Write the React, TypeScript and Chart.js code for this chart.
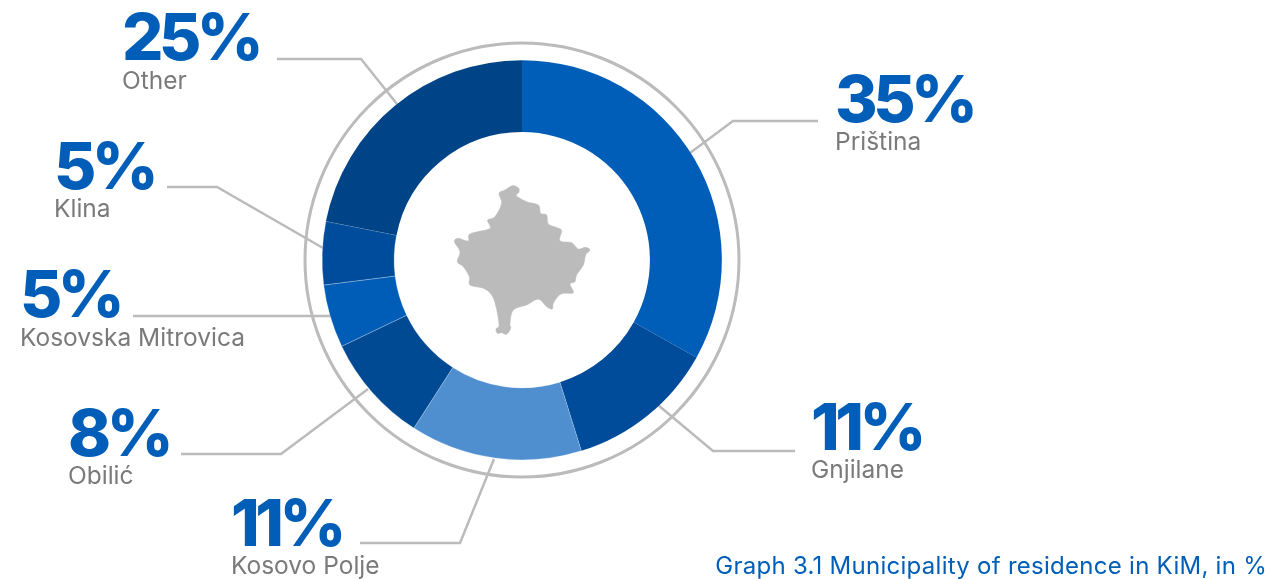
import React, { useEffect, useRef } from "react";
import { Chart, registerables } from "chart.js";

Chart.register(...registerables);

const categories = ["Priština", "Gnjilane", "Kosovo Polje", "Obilić", "Kosovska Mitrovica", "Klina", "Other"];
const percentLabels = ["35%", "11%", "11%", "8%", "5%", "5%", "25%"];
const sliceShares = [33.1, 12.1, 13.9, 8.8, 5.1, 5.1, 21.9];
const sliceColors = ["#005EB8", "#004C9B", "#4F8ECF", "#004A93", "#005DB7", "#004C9C", "#004488"];
const sliceBorders = [0, 0, 0.25, 0.25, 0.25, 0.25, 0];

const labelX = [835, 811, 231, 68, 20, 54, 122];
const percentBaseline = [122, 450, 546, 456, 317, 189, 60];
const nameBaseline = [150, 478, 574, 484, 346, 217, 89];
const leaders = [
  [[818, 121], [733, 121], [690, 153]],
  [[795, 451], [713, 451], [658, 405]],
  [[360, 543], [460, 543], [494, 459]],
  [[181, 454], [281, 454], [368, 389]],
  [[133, 316], [330, 316]],
  [[167, 187], [217, 187], [323, 248]],
  [[277, 59], [361, 59], [397, 104]],
];
const captionText = "Graph 3.1 Municipality of residence in KiM, in %";

const mapOutline = [
  [283, 77], [296, 85], [297, 96], [290, 108], [320, 125], [355, 135], [362, 160], [380, 165], [385, 192], [412, 203],
  [425, 212], [420, 242], [455, 248], [475, 267], [495, 262], [510, 270], [497, 285], [490, 315], [470, 345], [465, 365],
  [450, 372], [460, 398], [430, 400], [415, 408], [400, 430], [397, 447], [380, 440], [355, 418], [320, 435], [280, 450],
  [270, 490], [272, 505], [260, 523], [245, 518], [232, 520], [228, 507], [237, 495], [228, 440], [215, 405], [190, 385],
  [150, 375], [148, 350], [130, 320], [112, 305], [120, 275], [103, 245], [115, 235], [145, 243], [150, 222], [205, 208],
  [210, 198], [203, 180], [225, 170], [245, 130], [237, 100], [255, 90], [270, 80],
];

const FONT = "Inter";
const BLUE = "#005EB8";
const GRAY = "#BBBBBB";
const TEXT_GRAY = "#7A7A7A";

const decorations = {
  id: "decorations",
  beforeDatasetsDraw(chart: any) {
    const { ctx } = chart;
    const arc = chart.getDatasetMeta(0).data[0];
    ctx.save();
    ctx.strokeStyle = GRAY;
    ctx.lineWidth = 3;
    ctx.beginPath();
    ctx.arc(arc.x, arc.y, 217, 0, Math.PI * 2);
    ctx.stroke();

    ctx.lineWidth = 2.5;
    leaders.forEach((pts) => {
      ctx.beginPath();
      pts.forEach(([x, y], i) => (i ? ctx.lineTo(x, y) : ctx.moveTo(x, y)));
      ctx.stroke();
    });

    ctx.fillStyle = GRAY;
    ctx.lineJoin = "round";
    ctx.lineWidth = 0.5;
    ctx.beginPath();
    const pts = mapOutline.map(([x, y]) => [420 + x / 3, 160 + y / 3]);
    const n = pts.length;
    ctx.moveTo(pts[0][0], pts[0][1]);
    for (let i = 0; i < n; i++) {
      const p0 = pts[(i - 1 + n) % n];
      const p1 = pts[i];
      const p2 = pts[(i + 1) % n];
      const p3 = pts[(i + 2) % n];
      ctx.bezierCurveTo(
        p1[0] + (p2[0] - p0[0]) / 6,
        p1[1] + (p2[1] - p0[1]) / 6,
        p2[0] - (p3[0] - p1[0]) / 6,
        p2[1] - (p3[1] - p1[1]) / 6,
        p2[0],
        p2[1]
      );
    }
    ctx.closePath();
    ctx.fill();
    ctx.stroke();
    ctx.restore();
  },
  afterDraw(chart: any) {
    const { ctx } = chart;
    ctx.save();
    ctx.textBaseline = "alphabetic";
    ctx.textAlign = "left";
    categories.forEach((name, i) => {
      ctx.fillStyle = BLUE;
      ctx.font = `800 65px ${FONT}`;
      ctx.letterSpacing = "-4.5px";
      ctx.fillText(percentLabels[i], labelX[i], percentBaseline[i]);
      ctx.fillStyle = TEXT_GRAY;
      ctx.font = `400 24.5px ${FONT}`;
      ctx.letterSpacing = "0px";
      ctx.fillText(name, labelX[i], nameBaseline[i]);
    });
    ctx.fillStyle = BLUE;
    ctx.font = `400 24px ${FONT}`;
    ctx.letterSpacing = "0.27px";
    ctx.textAlign = "right";
    ctx.fillText(captionText, 1267, 574);
    ctx.restore();
  },
};

export default function App() {
  const ref = useRef<HTMLCanvasElement>(null);
  useEffect(() => {
    const chart = new Chart(ref.current as HTMLCanvasElement, {
      type: "doughnut",
      data: {
        labels: categories,
        datasets: [
          {
            data: sliceShares,
            backgroundColor: sliceColors,
            borderColor: "#FFFFFF",
            borderWidth: sliceBorders,
          },
        ],
      },
      options: {
        responsive: false,
        animation: false,
        cutout: "64%",
        layout: { padding: { left: 322, right: 550, top: 60, bottom: 119 } },
        plugins: { legend: { display: false }, tooltip: { enabled: false }, title: { display: false } },
      },
      plugins: [decorations],
    } as any);
    return () => chart.destroy();
  }, []);
  return (
    <div style={{ position: "absolute", left: 0, top: 0, width: 1272, height: 579 }}>
      <canvas ref={ref} width={1272} height={579} style={{ display: "block" }} />
    </div>
  );
}
